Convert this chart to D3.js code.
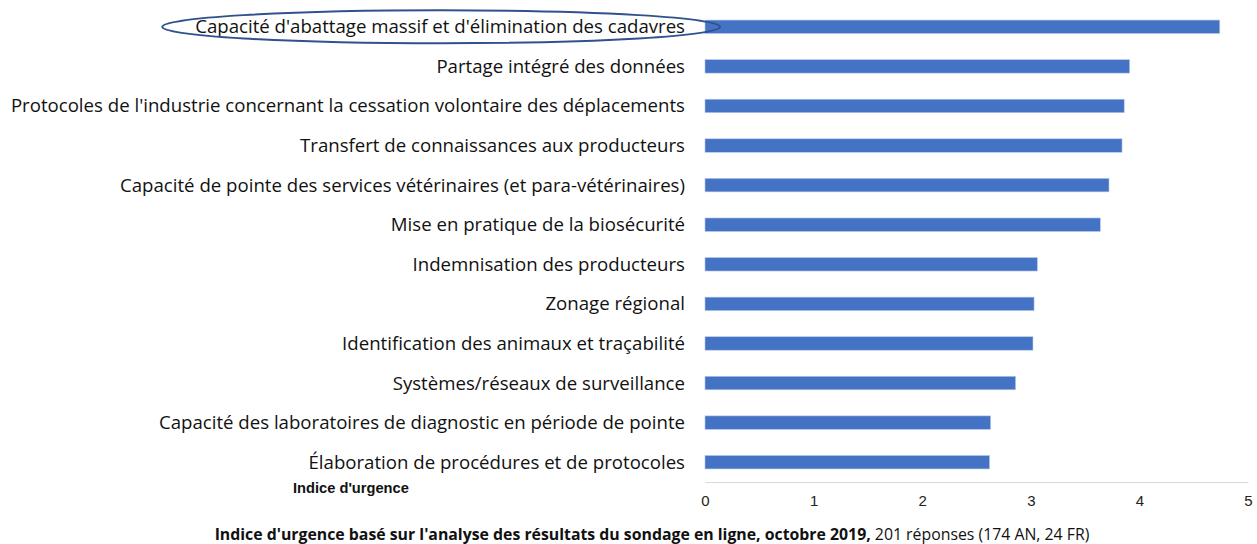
<!DOCTYPE html>
<html>
  <head>
    <meta charset="utf-8">
    <title>Indice d'urgence</title>
    <script src="https://d3js.org/d3.v7.min.js"></script>
    <style>
      body { margin: 0; background: #fff; }
    </style>
  </head>
  <body>
    <svg width="1257" height="544"></svg>

    <script>
      // données
      const categories = [
        "Capacité d'abattage massif et d'élimination des cadavres",
        "Partage intégré des données",
        "Protocoles de l'industrie concernant la cessation volontaire des déplacements",
        "Transfert de connaissances aux producteurs",
        "Capacité de pointe des services vétérinaires (et para-vétérinaires)",
        "Mise en pratique de la biosécurité",
        "Indemnisation des producteurs",
        "Zonage régional",
        "Identification des animaux et traçabilité",
        "Systèmes/réseaux de surveillance",
        "Capacité des laboratoires de diagnostic en période de pointe",
        "Élaboration de procédures et de protocoles"
      ];
      const values = [4.74, 3.91, 3.86, 3.84, 3.72, 3.64, 3.06, 3.03, 3.02, 2.86, 2.63, 2.62];
      const ticks = [0, 1, 2, 3, 4, 5];
      const axisTitle = "Indice d'urgence";
      const noteBold = "Indice d'urgence basé sur l'analyse des résultats du sondage en ligne, octobre 2019,";
      const noteRest = " 201 réponses (174 AN, 24 FR)";

      const width = 1257;
      const height = 544;
      const margin = { top: 7, right: 9, bottom: 62, left: 705 };
      const innerWidth = width - margin.left - margin.right;
      const innerHeight = height - margin.top - margin.bottom;
      const labelFont = "'Open Sans', 'Noto Sans', sans-serif";
      const arialFont = "'Liberation Sans', Arial, sans-serif";

      const x = d3.scaleLinear()
        .domain([0, 5])
        .range([0, innerWidth]);

      const y = d3.scaleBand()
        .domain(categories)
        .range([0, innerHeight])
        .paddingInner(0.66)
        .paddingOuter(0.33);

      const svg = d3.select("svg");
      const g = svg.append("g")
        .attr("transform", `translate(${margin.left},${margin.top})`);

      // barres
      g.selectAll("rect.bar")
        .data(categories)
        .join("rect")
        .attr("class", "bar")
        .attr("x", x(0))
        .attr("y", d => y(d))
        .attr("width", (d, i) => x(values[i]) - x(0))
        .attr("height", y.bandwidth())
        .attr("fill", "#4472C4")
        .attr("stroke", "#b4c7e7")
        .attr("stroke-width", 0.6);

      // étiquettes des catégories
      const labels = g.selectAll("text.cat")
        .data(categories)
        .join("text")
        .attr("class", "cat")
        .attr("x", -20)
        .attr("y", d => y(d) + y.bandwidth() / 2)
        .attr("dy", "0.35em")
        .attr("text-anchor", "end")
        .attr("font-family", labelFont)
        .attr("font-size", 16)
        .attr("fill", "#111")
        .text(d => d);

      // ajuster la taille pour imiter Calibri (plus étroit)
      const longest = d3.max(labels.nodes(), n => n.getComputedTextLength());
      labels.attr("font-size", 16 * 675 / longest);

      // axe x
      const xAxis = g.append("g")
        .attr("transform", `translate(0,${innerHeight})`)
        .call(d3.axisBottom(x).tickValues(ticks).tickSize(0).tickPadding(13).tickFormat(d3.format("d")));
      xAxis.select(".domain").attr("stroke", "#d9d9d9").attr("stroke-width", 1.2);
      xAxis.selectAll("text")
        .attr("font-family", arialFont)
        .attr("font-size", 15)
        .attr("fill", "#222");

      // titre de l'axe
      const title = g.append("text")
        .attr("x", -412)
        .attr("y", innerHeight + 11)
        .attr("font-family", arialFont)
        .attr("font-size", 13)
        .attr("font-weight", "bold")
        .attr("fill", "#111")
        .text(axisTitle);
      title.attr("font-size", 13 * 116 / title.node().getComputedTextLength());

      // ellipse autour de la première catégorie
      const firstLabel = labels.nodes()[0].getBBox();
      g.append("ellipse")
        .attr("cx", firstLabel.x + firstLabel.width / 2 + 1)
        .attr("cy", y(categories[0]) + y.bandwidth() / 2)
        .attr("rx", firstLabel.width / 2 + 34)
        .attr("ry", 16.5)
        .attr("fill", "none")
        .attr("stroke", "#2F528F")
        .attr("stroke-width", 2);

      // note en bas
      const note = svg.append("text")
        .attr("x", 652)
        .attr("y", 540)
        .attr("text-anchor", "middle")
        .attr("font-family", labelFont)
        .attr("font-size", 14)
        .attr("fill", "#111");
      note.append("tspan").attr("font-weight", "bold").text(noteBold);
      note.append("tspan").text(noteRest);
      note.attr("font-size", 14 * 875 / note.node().getComputedTextLength());
    </script>
  </body>
</html>
